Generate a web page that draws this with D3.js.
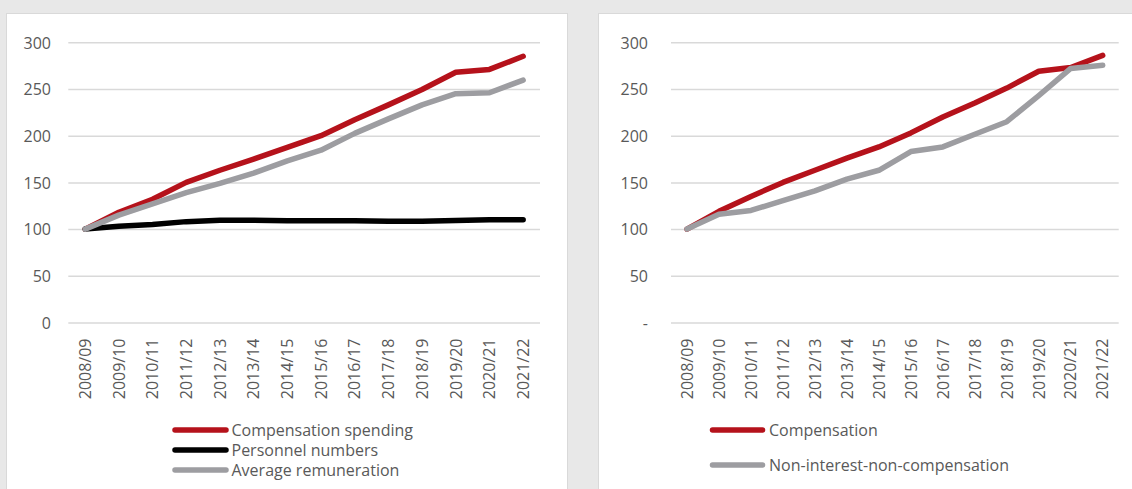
<!DOCTYPE html>
<html>
<head>
<meta charset="utf-8">
<script src="https://cdn.jsdelivr.net/npm/d3@7"></script>
<style>
  html, body { margin: 0; padding: 0; background: #e8e8e8; }
  svg { display: block; }
  text { font-family: "Open Sans", "Noto Sans", sans-serif; fill: #595959; }
</style>
</head>
<body>
<svg id="chart" width="1132" height="489"></svg>
<script>
const categories = ["2008/09","2009/10","2010/11","2011/12","2012/13","2013/14","2014/15","2015/16","2016/17","2017/18","2018/19","2019/20","2020/21","2021/22"];

const compensationSpending = [100, 118, 132, 150, 163, 175, 187.5, 200, 217, 233, 249.5, 268, 271, 285];
const personnelNumbers = [100, 103, 105, 108, 109.6, 109.6, 109, 109, 109, 108.5, 108.5, 109.3, 110, 110];
const averageRemuneration = [100, 115, 127, 139, 149, 160, 173, 184.5, 202.5, 218, 233, 245, 246, 259.5];

const compensation = [100, 119, 135, 150, 163, 176, 188, 203, 220, 235, 251, 269, 273, 286];
const nonInterestNonCompensation = [100, 116, 120, 130.5, 141, 153.5, 163, 183, 188, 201.5, 215, 243, 272, 275.5];

const yTicks = [0, 50, 100, 150, 200, 250, 300];
const yTickLabelsLeft = ["0", "50", "100", "150", "200", "250", "300"];
const yTickLabelsRight = ["-", "50", "100", "150", "200", "250", "300"];

const RED = "#b5121b", BLACK = "#000000", GRAY = "#9d9da1";
const FONT = '"Open Sans", "Noto Sans", sans-serif';

const svg = d3.select("#chart");

function panel(cfg) {
  svg.append("rect")
    .attr("x", cfg.box[0]).attr("y", cfg.box[1])
    .attr("width", cfg.box[2]).attr("height", cfg.box[3])
    .attr("fill", "#ffffff").attr("stroke", "#d9d9d9").attr("stroke-width", 1);

  const x = d3.scaleBand().domain(categories).range([cfg.x0, cfg.x1]);
  const y = d3.scaleLinear().domain([0, 300]).range([322.5, 42.3]);
  const g = svg.append("g");

  const yAxis = d3.axisLeft(y).tickValues(yTicks)
    .tickSize(-(cfg.x1 - cfg.x0))
    .tickFormat((d, i) => cfg.yLabels[i]);
  const ya = g.append("g").attr("transform", `translate(${cfg.x0},0)`).call(yAxis);
  ya.select(".domain").remove();
  ya.selectAll(".tick line").attr("stroke", "#d9d9d9").attr("stroke-width", 1.5);
  ya.selectAll(".tick text")
    .attr("x", cfg.labelX - cfg.x0)
    .attr("dy", "0.36em")
    .style("font-size", "16px")
    .style("font-family", FONT)
    .attr("fill", "#595959");

  const xAxis = d3.axisBottom(x).tickSize(0);
  const xa = g.append("g").attr("transform", `translate(0,${y(0)})`).call(xAxis);
  xa.select(".domain").remove();
  xa.selectAll(".tick text")
    .attr("transform", "rotate(-90)")
    .attr("x", -16).attr("y", 0)
    .attr("dy", "0.36em")
    .attr("text-anchor", "end")
    .style("font-size", "16px")
    .style("font-family", FONT)
    .attr("fill", "#595959");

  const line = d3.line()
    .x((d, i) => x(categories[i]) + x.bandwidth() / 2)
    .y(d => y(d));

  cfg.series.forEach(s => {
    g.append("path").datum(s.values)
      .attr("d", line)
      .attr("fill", "none")
      .attr("stroke", s.color)
      .attr("stroke-width", 5.5)
      .attr("stroke-linejoin", "round")
      .attr("stroke-linecap", "round");
  });

  cfg.series.forEach((s, i) => {
    const ly = cfg.legendY[i];
    g.append("line")
      .attr("x1", cfg.legendX).attr("x2", cfg.legendX + cfg.legendLen)
      .attr("y1", ly).attr("y2", ly)
      .attr("stroke", s.color).attr("stroke-width", 5.5)
      .attr("stroke-linecap", "round");
    g.append("text")
      .attr("x", cfg.textX)
      .attr("y", ly).attr("dy", "0.36em")
      .style("font-size", "16px")
      .text(s.name);
  });
}

panel({
  box: [6.5, 13.5, 561, 490],
  x0: 68.3, x1: 540, labelX: 51,
  yLabels: yTickLabelsLeft,
  legendX: 175, legendLen: 51, textX: 231.5, legendY: [430, 450, 470],
  series: [
    { name: "Compensation spending", values: compensationSpending, color: RED },
    { name: "Personnel numbers", values: personnelNumbers, color: BLACK },
    { name: "Average remuneration", values: averageRemuneration, color: GRAY }
  ]
});

panel({
  box: [598.5, 13.5, 560, 490],
  x0: 671, x1: 1118.7, labelX: 648,
  yLabels: yTickLabelsRight,
  legendX: 712.5, legendLen: 50, textX: 769, legendY: [430, 465],
  series: [
    { name: "Compensation", values: compensation, color: RED },
    { name: "Non-interest-non-compensation", values: nonInterestNonCompensation, color: GRAY }
  ]
});
</script>
</body>
</html>
